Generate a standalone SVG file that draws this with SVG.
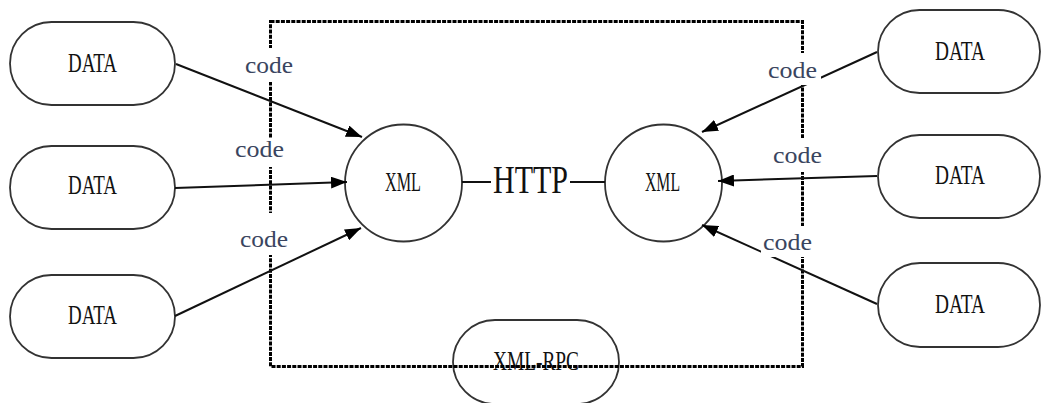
<svg xmlns="http://www.w3.org/2000/svg" width="1041" height="403" viewBox="0 0 1041 403">
<style>
.node{fill:#fff;stroke:#333;stroke-width:1.8}
.t{font-family:"Liberation Serif","Times New Roman",serif;fill:#111;text-anchor:middle}
.data{font-size:28px}
.xml{font-size:27px}
.edge{stroke:#111;stroke-width:2;fill:none}
.arr{stroke:#111;stroke-width:2;fill:none;marker-end:url(#ah)}
.lbl{font-family:"Liberation Serif","Times New Roman",serif;font-size:24px;fill:#3a4560;text-anchor:middle}
.bg{fill:#fff}
.box{fill:none;stroke:#000;stroke-width:3;stroke-dasharray:4 1.2}
</style>
<defs>
<marker id="ah" viewBox="0 0 16 12" refX="16" refY="6" markerWidth="16" markerHeight="12" markerUnits="userSpaceOnUse" orient="auto">
<path d="M0,0 L16,6 L0,12 Z" fill="#000"/>
</marker>
</defs>
<rect width="1041" height="403" fill="#fff"/>

<g id="data-l1"><rect class="node" x="10" y="22" width="165" height="83" rx="41.5"/><text class="t data" x="92.5" y="72" textLength="49" lengthAdjust="spacingAndGlyphs">DATA</text></g>
<g id="data-l2"><rect class="node" x="10" y="146" width="165" height="83" rx="41.5"/><text class="t data" x="92.5" y="194" textLength="49" lengthAdjust="spacingAndGlyphs">DATA</text></g>
<g id="data-l3"><rect class="node" x="10" y="275" width="165" height="83" rx="41.5"/><text class="t data" x="92.5" y="324" textLength="49" lengthAdjust="spacingAndGlyphs">DATA</text></g>
<g id="data-r1"><rect class="node" x="878" y="10" width="162" height="83" rx="41.5"/><text class="t data" x="960" y="60" textLength="50" lengthAdjust="spacingAndGlyphs">DATA</text></g>
<g id="data-r2"><rect class="node" x="878" y="135" width="162" height="83" rx="41.5"/><text class="t data" x="960" y="184" textLength="50" lengthAdjust="spacingAndGlyphs">DATA</text></g>
<g id="data-r3"><rect class="node" x="878" y="263" width="162" height="84" rx="42"/><text class="t data" x="960" y="313" textLength="50" lengthAdjust="spacingAndGlyphs">DATA</text></g>
<g id="xml-l"><circle class="node" cx="403.5" cy="183" r="58.5"/><text class="t xml" x="403" y="191" textLength="36" lengthAdjust="spacingAndGlyphs">XML</text></g>
<g id="xml-r"><circle class="node" cx="663.5" cy="183" r="58.5"/><text class="t xml" x="662.5" y="191" textLength="35" lengthAdjust="spacingAndGlyphs">XML</text></g>
<g id="xml-rpc"><rect class="node" x="453" y="320" width="166" height="84" rx="42"/><text class="t xml" x="536" y="370" textLength="86" lengthAdjust="spacingAndGlyphs">XML-RPC</text></g>

<g id="boundary"><rect class="box" x="270.5" y="21.5" width="532" height="345"/></g>

<g id="connectors">
<path class="arr" d="M176,64 L362,137"/>
<path class="arr" d="M175,188 L347,182"/>
<path class="arr" d="M175,316 L361,228"/>
<path class="arr" d="M877,52 L702,132"/>
<path class="arr" d="M877,176 L718,181"/>
<path class="arr" d="M877,304 L702,225"/>
<path class="edge" d="M462,182 L491,182"/>
<path class="edge" d="M570,182 L605,182"/>
<text class="t" x="530.5" y="193" font-size="39" textLength="75" lengthAdjust="spacingAndGlyphs">HTTP</text>
<g id="labels">
<rect class="bg" x="243" y="48" width="53" height="34"/>
<text class="lbl" x="269" y="73" textLength="48" lengthAdjust="spacingAndGlyphs">code</text>
<rect class="bg" x="233" y="138" width="53" height="29"/>
<text class="lbl" x="259.5" y="157" textLength="49" lengthAdjust="spacingAndGlyphs">code</text>
<rect class="bg" x="238" y="213" width="53" height="42"/>
<text class="lbl" x="264" y="247" textLength="48" lengthAdjust="spacingAndGlyphs">code</text>
<rect class="bg" x="765" y="53" width="56" height="32"/>
<text class="lbl" x="792.5" y="78" textLength="49" lengthAdjust="spacingAndGlyphs">code</text>
<rect class="bg" x="771" y="138" width="53" height="34"/>
<text class="lbl" x="797.5" y="163" textLength="49" lengthAdjust="spacingAndGlyphs">code</text>
<rect class="bg" x="761" y="226" width="54" height="31"/>
<text class="lbl" x="787.5" y="250" textLength="49" lengthAdjust="spacingAndGlyphs">code</text>
</g>
</g>
</svg>
